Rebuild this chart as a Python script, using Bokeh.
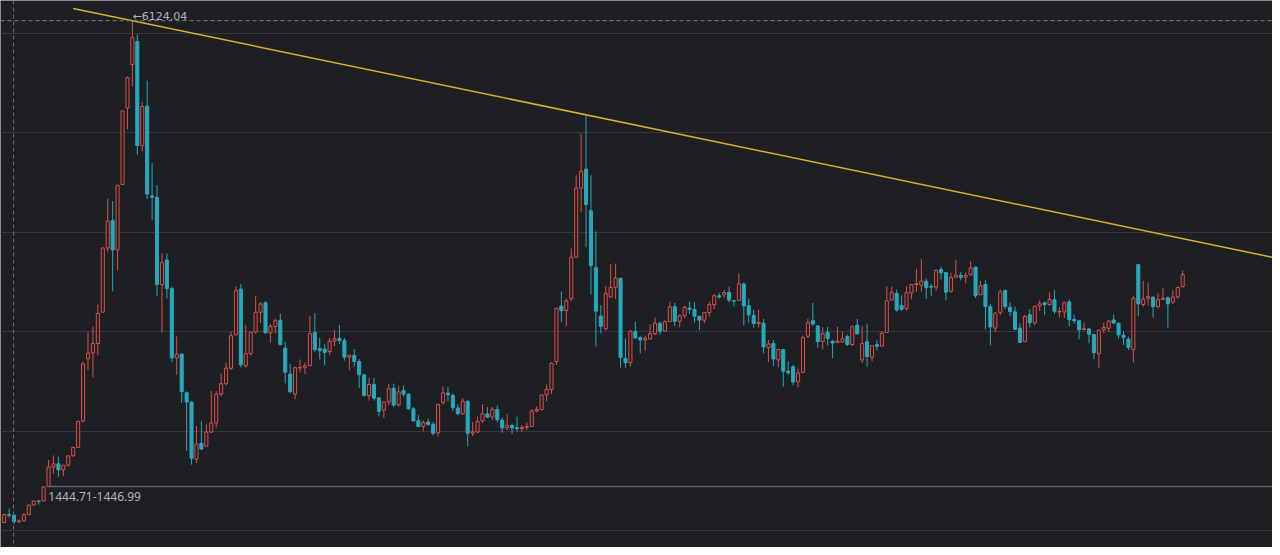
import numpy as np
import pandas as pd
from bokeh.plotting import figure
from bokeh.models import ColumnDataSource, Span, Label, FixedTicker
from bokeh.embed import file_html
from bokeh.resources import INLINE

# Monthly candles (open, high, low, close), Jul 2005 - Jul 2025
ohlc_2005 = [(1080,1095,1004,1083),(1083,1172,1078,1162),(1162,1223,1133,1155),(1155,1165,1067,1092),
             (1092,1111,1074,1099),(1099,1178,1094,1161)]
ohlc_2006 = [(1163,1260,1163,1258),(1258,1303,1255,1299),(1299,1307,1262,1298),(1300,1445,1297,1440),
             (1445,1710,1440,1641),(1641,1757,1574,1672),(1673,1745,1541,1612),(1612,1660,1551,1658),
             (1658,1755,1648,1752),(1753,1837,1745,1837),(1838,2100,1837,2099),(2102,2698,2087,2675)]
ohlc_2007 = [(2728,2995,2617,2786),(2786,3050,2541,2881),(2881,3274,2762,3183),(3196,3841,3196,3841),
             (3841,4335,3804,4109),(4115,4312,3404,3821),(3820,4471,3615,4471),(4479,5218,4479,5218),
             (5245,5562,5034,5552),(5683,6124.04,5463,5954),(5915,5986,4778,4871),(4868,5308,4812,5262)]
ohlc_2008 = [(5265,5522,4330,4383),(4363,4695,4123,4348),(4349,4473,3357,3473),(3473,3787,2990,3693),
             (3720,3786,3333,3433),(3434,3454,2693,2736),(2736,2953,2566,2775),(2774,2780,2284,2397),
             (2386,2400,1802,2293),(2293,2297,1664,1729),(1719,2052,1679,1871),(1878,2100,1814,1821)]
ohlc_2009 = [(1849,2070,1844,1991),(1991,2403,1986,2082),(2082,2402,2037,2373),(2373,2579,2350,2477),
             (2477,2689,2461,2633),(2632,3000,2617,2959),(2968,3455,2964,3412),(3428,3478,2639,2667),
             (2656,3068,2639,2779),(2780,3000,2760,2996),(2996,3361,2980,3195),(3195,3296,3087,3277)]
ohlc_2010 = [(3289,3306,2983,2989),(2989,3077,2890,3051),(3051,3127,2980,3110),(3113,3181,2861,2870),
             (2835,2897,2481,2592),(2573,2673,2382,2398),(2373,2648,2319,2638),(2637,2720,2590,2639),
             (2642,2690,2573,2656),(2660,3159,2660,2979),(2990,3186,2797,2820),(2830,2939,2721,2808)]
ohlc_2011 = [(2825,2873,2661,2791),(2800,2938,2769,2905),(2906,3017,2855,2928),(2934,3067,2875,2911),
             (2910,2938,2709,2743),(2743,2770,2611,2762),(2762,2827,2648,2701),(2700,2725,2437,2567),
             (2565,2581,2350,2359),(2357,2536,2307,2469),(2470,2536,2308,2333),(2335,2339,2149,2199)]
ohlc_2012 = [(2212,2300,2132,2292),(2296,2478,2260,2428),(2431,2478,2242,2263),(2263,2454,2250,2396),
             (2407,2461,2347,2373),(2372,2382,2219,2225),(2225,2242,2100,2103),(2105,2161,2040,2047),
             (2049,2109,1999,2086),(2093,2126,2052,2069),(2069,2094,1959,1980),(1983,2276,1949,2269)]
ohlc_2013 = [(2289,2451,2264,2385),(2383,2444,2301,2366),(2360,2380,2201,2237),(2233,2268,2161,2177),
             (2174,2334,2166,2301),(2300,2315,1849,1979),(1979,2093,1951,1994),(1992,2148,1984,2098),
             (2103,2270,2085,2175),(2174,2242,2133,2141),(2142,2243,2113,2220),(2219,2260,2088,2116)]
ohlc_2014 = [(2112,2138,1984,2033),(2034,2177,2011,2056),(2057,2076,1974,2033),(2036,2147,1997,2026),
             (2024,2061,1991,2039),(2039,2087,2010,2048),(2047,2222,2042,2202),(2203,2248,2189,2217),
             (2218,2366,2210,2364),(2365,2470,2302,2420),(2418,2692,2376,2683),(2698,3239,2665,3235)]
ohlc_2015 = [(3258,3406,3095,3210),(3212,3333,3050,3310),(3332,3835,3304,3748),(3749,4573,3742,4441),
             (4441,4986,4198,4612),(4633,5178.19,3848,4277),(4214,4572,3373,3664),(3643,4006,2850,3206),
             (3157,3266,2983,3053),(3030,3459,3012,3383),(3348,3678,3344,3445),(3445,3684,3327,3539)]
ohlc_2016 = [(3537,3539,2638,2738),(2730,2933,2638,2688),(2688,3018,2649,3004),(3000,3098,2928,2938),
             (2940,2954,2781,2917),(2915,2962,2807,2930),(2926,3074,2922,2979),(2980,3140,2965,3085),
             (3084,3101,2969,3005),(3006,3114,3000,3100),(3101,3301,3098,3250),(3251,3288,3056,3104)]
ohlc_2017 = [(3105,3174,3044,3159),(3160,3260,3133,3242),(3237,3301,3180,3223),(3222,3295,3094,3155),
             (3155,3160,3017,3117),(3115,3193,3083,3192),(3192,3301,3155,3273),(3271,3377,3226,3361),
             (3361,3391,3329,3349),(3370,3418,3341,3393),(3395,3451,3295,3317),(3311,3313,3254,3307)]
ohlc_2018 = [(3314,3587,3314,3481),(3478,3495,3062,3259),(3262,3334,3092,3169),(3163,3220,3041,3082),
             (3081,3219,3041,3095),(3084,3128,2782,2847),(2839,2916,2691,2876),(2882,2915,2653,2725),
             (2717,2827,2644,2821),(2819,2827,2449,2603),(2603,2703,2565,2588),(2647,2667,2463,2494)]
ohlc_2019 = [(2497,2630,2440,2585),(2589,2961,2587,2941),(2954,3129,2935,3091),(3110,3288,3058,3078),
             (3058,3058,2838,2899),(2900,3045,2822,2979),(2995,3048,2862,2932),(2904,2917,2733,2886),
             (2890,3048,2889,2905),(2897,3000,2891,2929),(2950,2969,2857,2872),(2870,3063,2857,3050)]
ohlc_2020 = [(3066,3127,2976,2977),(2716,3058,2685,2880),(2900,3074,2647,2750),(2743,2858,2703,2860),
             (2870,2912,2809,2852),(2855,3002,2852,2985),(2992,3458,2992,3310),(3317,3452,3316,3396),
             (3383,3425,3202,3218),(3262,3365,3209,3225),(3231,3457,3210,3392),(3388,3475,3325,3473)]
ohlc_2021 = [(3474,3632,3400,3483),(3466,3732,3404,3509),(3507,3532,3329,3442),(3454,3481,3355,3447),
             (3446,3625,3414,3615),(3624,3654,3522,3591),(3594,3599,3313,3397),(3406,3592,3391,3544),
             (3547,3723,3546,3568),(3566,3602,3515,3547),(3547,3594,3484,3564),(3573,3708,3560,3640)]
ohlc_2022 = [(3649,3651,3338,3361),(3371,3512,3368,3462),(3473,3517,3023,3252),(3250,3281,2863,3047),
             (3036,3194,2997,3186),(3194,3424,3166,3399),(3415,3420,3227,3253),(3245,3296,3155,3202),
             (3199,3251,3021,3024),(3035,3083,2886,2893),(2899,3169,2896,3151),(3170,3226,3044,3089)]
ohlc_2023 = [(3087,3264,3063,3255),(3258,3316,3207,3280),(3290,3302,3169,3273),(3274,3397,3261,3323),
             (3320,3419,3179,3205),(3198,3245,3142,3202),(3197,3302,3136,3291),(3299,3322,3053,3120),
             (3122,3172,3081,3110),(3110,3113,2923,3018),(3021,3092,3012,3030),(3027,3039,2882,2975)]
ohlc_2024 = [(2972,2975,2724,2789),(2779,3016,2635,3015),(3020,3090,2985,3041),(3034,3119,2995,3105),
             (3117,3174,3075,3087),(3084,3092,2933,2967),(2963,3004,2865,2939),(2925,2951,2815,2842),
             (2820,3358,2690,3336),(3674,3674,3153,3280),(3273,3510,3250,3326),(3336,3495,3263,3352)]
ohlc_2025 = [(3347,3355,3140,3251),(3250,3386,3236,3321),(3325,3440,3316,3336),(3340,3356,3040,3279),
             (3296,3417,3279,3347),(3348,3453,3330,3444),(3452,3614,3443,3573)]

grid_levels = [1000, 2000, 3000, 4000, 5000, 6000]
price_line_low = 1444.71
price_line_high = 1446.99

rows = (ohlc_2005 + ohlc_2006 + ohlc_2007 + ohlc_2008 + ohlc_2009 + ohlc_2010 + ohlc_2011 +
        ohlc_2012 + ohlc_2013 + ohlc_2014 + ohlc_2015 + ohlc_2016 + ohlc_2017 + ohlc_2018 +
        ohlc_2019 + ohlc_2020 + ohlc_2021 + ohlc_2022 + ohlc_2023 + ohlc_2024 + ohlc_2025)
months = pd.period_range("2005-07", periods=len(rows), freq="M").strftime("%Y-%m").tolist()
opens = np.array([r[0] for r in rows], dtype=float)
highs = np.array([r[1] for r in rows], dtype=float)
lows = np.array([r[2] for r in rows], dtype=float)
closes = np.array([r[3] for r in rows], dtype=float)
idx = np.arange(len(rows))

BG = "#1e1f23"
RED = "#dc504b"
TEAL = "#27a9bc"
GRID = "#34373e"
TXT = "#b0b3ba"

W, H = 1272, 547
# view spans 1280 x 555 reference pixels: 4.962 px per month, 0.101 px per point
ref_px_per_month = 4.962
peak_i = int(np.argmax(highs))
peak_ref_x = 132.7
x_start = peak_i - peak_ref_x / ref_px_per_month
x_end = x_start + 1280 / ref_px_per_month
y_lo, y_hi = 831.7, 6326.7
val_per_px = (y_hi - y_lo) / H

p = figure(width=W, height=H, x_range=(x_start, x_end), y_range=(y_lo, y_hi),
           output_backend="svg", toolbar_location=None, min_border=0,
           x_axis_location=None, y_axis_location=None,
           background_fill_color=BG, border_fill_color=BG, outline_line_color=None)
p.xgrid.visible = False
p.ygrid.ticker = FixedTicker(ticks=grid_levels)
p.ygrid.grid_line_color = GRID
p.ygrid.grid_line_width = 1

# crosshair-like dashed lines
p.add_layout(Span(location=2.9, dimension="height", line_color="#6b6e76",
                  line_dash="4 3", line_width=1))
p.add_layout(Span(location=highs[peak_i], dimension="width", line_color="#7d8089",
                  line_dash="4 3", line_width=1))

# horizontal price line from Apr 2006
apr06 = months.index("2006-04")
p.segment(x0=[apr06 + 0.7], y0=[price_line_low], x1=[x_end + 5], y1=[price_line_low],
          line_color="#5b5e66", line_width=1.5)
p.add_layout(Label(x=apr06 + 0.95, y=price_line_low - 10 * val_per_px,
                   text=f"{price_line_low:.2f}-{price_line_high:.2f}",
                   text_color=TXT, text_font="Noto Sans", text_font_size="12px",
                   text_baseline="middle", text_align="left"))

up = closes >= opens
body_top = np.maximum(opens, closes)
body_bot = np.minimum(opens, closes)
body_bot = np.where(body_top - body_bot < 4, body_top - 4, body_bot)

src = ColumnDataSource(dict(x=idx, high=highs, low=lows, top=body_top, bot=body_bot,
                            color=np.where(up, RED, TEAL).tolist(),
                            fill=np.where(up, BG, TEAL).tolist(), month=months))
p.segment(x0="x", y0="low", x1="x", y1="high", line_color="color", line_width=1, source=src)
p.vbar(x="x", width=0.62, top="top", bottom="bot", fill_color="fill", line_color="color",
       line_width=1, source=src)

# descending trend line through the 2007 and 2015 peaks
later = peak_i + 24
peak2_i = later + int(np.argmax(highs[later:]))
slope = (highs[peak2_i] - highs[peak_i]) / (peak2_i - peak_i)
tx = np.array([peak_i - 12, len(rows) + 30], dtype=float)
ty = highs[peak_i] + slope * (tx - peak_i)
p.line(tx, ty, line_color="#d9b02e", line_width=1.5)

p.add_layout(Label(x=peak_i + 0.05, y=highs[peak_i] + 4 * val_per_px,
                   text=f"\u2190{highs[peak_i]:.2f}", text_color=TXT, text_font="DejaVu Sans",
                   text_font_size="11px", text_baseline="middle", text_align="left"))

open("out.html", "w").write(file_html(p, INLINE))
